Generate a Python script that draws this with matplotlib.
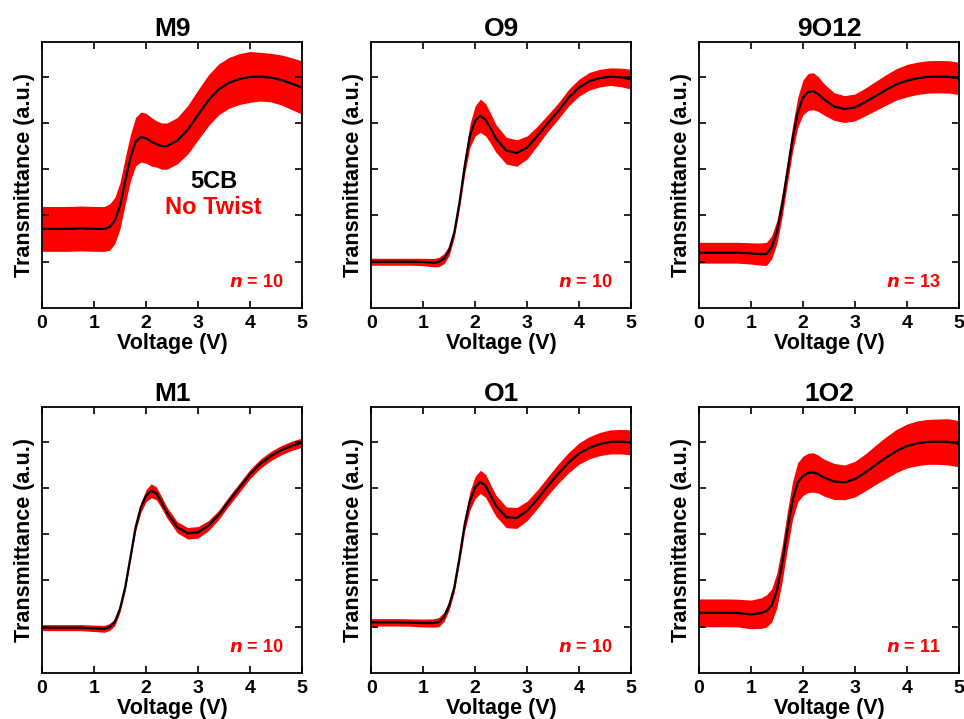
import matplotlib
matplotlib.use('Agg')
import matplotlib.pyplot as plt
import numpy as np

plt.rcParams['font.family'] = ['Liberation Sans', 'DejaVu Sans']
plt.rcParams['font.weight'] = 'bold'

# voltage points (V)
voltage = [0, 0.25, 0.5, 0.75, 1.0, 1.2, 1.3, 1.4, 1.5, 1.6, 1.7, 1.8, 1.9, 2.0, 2.1,
           2.2, 2.3, 2.4, 2.6, 2.8, 3.0, 3.2, 3.4, 3.6, 3.8, 4.0, 4.2, 4.4, 4.6, 4.8, 5.0]

titles = ['M9', 'O9', '9O12', 'M1', 'O1', '1O2']
n_counts = [10, 10, 13, 10, 10, 11]

# mean normalised transmittance
m9_mean = [0.342, 0.342, 0.342, 0.344, 0.342, 0.342, 0.35, 0.378, 0.443, 0.55, 0.65, 0.719, 0.739, 0.734, 0.719,
           0.709, 0.70, 0.70, 0.723, 0.77, 0.835, 0.898, 0.946, 0.974, 0.99, 0.999, 1.0, 0.996, 0.986, 0.97, 0.953]
o9_mean = [0.20, 0.20, 0.20, 0.20, 0.199, 0.196, 0.199, 0.213, 0.249, 0.328, 0.457, 0.615, 0.745, 0.809, 0.831,
           0.814, 0.776, 0.733, 0.68, 0.67, 0.694, 0.745, 0.80, 0.852, 0.91, 0.953, 0.981, 0.994, 1.0, 0.997, 0.989]
o912_mean = [0.239, 0.239, 0.239, 0.239, 0.236, 0.233, 0.234, 0.263, 0.328, 0.443, 0.586, 0.73, 0.845, 0.91, 0.934,
             0.937, 0.924, 0.903, 0.871, 0.86, 0.867, 0.891, 0.917, 0.943, 0.967, 0.983, 0.993, 0.999, 1.0, 0.999, 0.993]
m1_mean = [0.196, 0.196, 0.196, 0.196, 0.193, 0.191, 0.199, 0.22, 0.278, 0.371, 0.50, 0.63, 0.716, 0.766, 0.788,
           0.776, 0.737, 0.694, 0.63, 0.604, 0.608, 0.637, 0.684, 0.745, 0.802, 0.86, 0.905, 0.938, 0.963, 0.982, 0.996]
o1_mean = [0.219, 0.219, 0.219, 0.218, 0.216, 0.216, 0.22, 0.242, 0.292, 0.371, 0.50, 0.644, 0.745, 0.802, 0.826,
           0.809, 0.766, 0.723, 0.673, 0.67, 0.701, 0.752, 0.809, 0.862, 0.91, 0.949, 0.974, 0.99, 0.999, 1.0, 0.997]
o12_mean = [0.26, 0.26, 0.26, 0.259, 0.253, 0.259, 0.268, 0.292, 0.357, 0.472, 0.615, 0.745, 0.824, 0.852, 0.865,
            0.867, 0.859, 0.845, 0.828, 0.824, 0.838, 0.867, 0.90, 0.931, 0.96, 0.981, 0.993, 0.999, 1.0, 0.999, 0.991]

# standard deviation (half-width of red band)
m9_sd = [0.097, 0.097, 0.097, 0.097, 0.097, 0.097, 0.10, 0.10, 0.10, 0.10, 0.10, 0.105, 0.108, 0.108, 0.105,
         0.10, 0.10, 0.10, 0.10, 0.105, 0.108, 0.11, 0.11, 0.11, 0.11, 0.11, 0.105, 0.105, 0.108, 0.112, 0.115]
o9_sd = [0.015, 0.015, 0.015, 0.015, 0.016, 0.018, 0.02, 0.022, 0.022, 0.022, 0.025, 0.035, 0.05, 0.065, 0.072,
         0.07, 0.065, 0.06, 0.058, 0.057, 0.05, 0.042, 0.036, 0.035, 0.036, 0.037, 0.038, 0.038, 0.038, 0.04, 0.043]
o912_sd = [0.045, 0.045, 0.045, 0.045, 0.046, 0.048, 0.05, 0.05, 0.05, 0.05, 0.05, 0.055, 0.065, 0.075, 0.08,
           0.08, 0.075, 0.068, 0.06, 0.058, 0.058, 0.06, 0.063, 0.066, 0.068, 0.07, 0.07, 0.07, 0.07, 0.07, 0.07]
m1_sd = [0.013, 0.013, 0.013, 0.013, 0.014, 0.015, 0.015, 0.015, 0.015, 0.015, 0.015, 0.018, 0.022, 0.026, 0.03,
         0.028, 0.025, 0.024, 0.024, 0.025, 0.025, 0.022, 0.02, 0.02, 0.02, 0.02, 0.02, 0.02, 0.02, 0.02, 0.02]
o1_sd = [0.016, 0.016, 0.016, 0.016, 0.017, 0.018, 0.02, 0.02, 0.02, 0.02, 0.022, 0.03, 0.04, 0.048, 0.05,
         0.05, 0.048, 0.046, 0.045, 0.045, 0.042, 0.04, 0.04, 0.042, 0.044, 0.046, 0.048, 0.05, 0.052, 0.053, 0.054]
o12_sd = [0.06, 0.06, 0.06, 0.06, 0.062, 0.066, 0.07, 0.072, 0.075, 0.078, 0.08, 0.082, 0.085, 0.085, 0.085,
          0.085, 0.082, 0.08, 0.078, 0.075, 0.077, 0.08, 0.085, 0.09, 0.093, 0.095, 0.097, 0.097, 0.098, 0.1, 0.1]

means = [m9_mean, o9_mean, o912_mean, m1_mean, o1_mean, o12_mean]
sds = [m9_sd, o9_sd, o912_sd, m1_sd, o1_sd, o12_sd]

fig = plt.figure(figsize=(9.64, 7.19), dpi=100)

lefts = [0.0436, 0.385, 0.725]
bottoms = [0.5716, 0.064]
w, h = 0.2697, 0.370

v = np.array(voltage)
for i in range(6):
    ax = fig.add_axes([lefts[i % 3], bottoms[i // 3], w, h])
    mu = np.array(means[i])
    sd = np.array(sds[i])
    ax.fill_between(v, mu - sd, mu + sd, color='#ff0000', lw=0)
    ax.plot(v, mu, color='black', lw=1.6)

    ax.set_xlim(0, 5)
    ax.set_ylim(0, 1.15)
    ax.set_xticks([0, 1, 2, 3, 4, 5])
    ax.set_yticks([0.2, 0.4, 0.6, 0.8, 1.0])
    ax.set_yticklabels([])
    ax.tick_params(direction='in', top=True, right=True, length=5, width=1.2, labelsize=14, pad=5)
    for lab in ax.get_xticklabels():
        lab.set_fontweight('bold')
    for s in ax.spines.values():
        s.set_linewidth(1.3)

    ax.set_title(titles[i], fontsize=19, fontweight='bold', pad=4)
    ax.set_xlabel('Voltage (V)', fontsize=15.5, fontweight='bold', labelpad=1)
    ax.set_ylabel('Transmittance (a.u.)', fontsize=15.5, fontweight='bold', labelpad=0)
    ax.text(4.65, 0.11, r'$\mathbfit{n}$ = %d' % n_counts[i], color='#ff0000', fontsize=13,
            fontweight='bold', ha='right', va='center')

    if i == 0:
        ax.text(3.3, 0.545, '5CB', color='black', fontsize=17, fontweight='bold', ha='center', va='center')
        ax.text(3.3, 0.435, 'No Twist', color='#ff0000', fontsize=17, fontweight='bold', ha='center', va='center')

plt.savefig('out.png', dpi=100)
